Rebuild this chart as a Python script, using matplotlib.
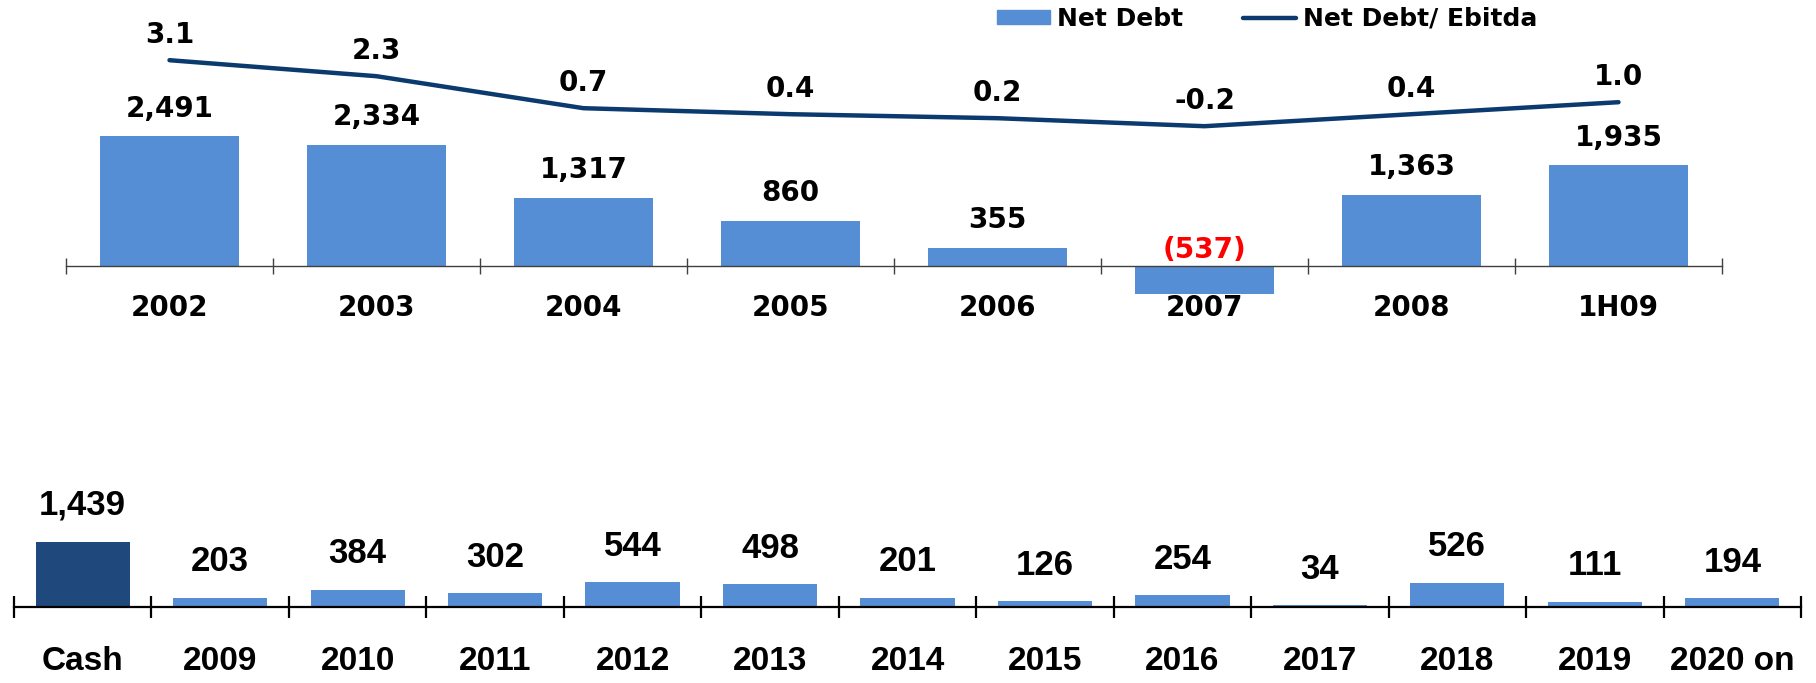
import numpy as np
import matplotlib
matplotlib.use("Agg")
import matplotlib.pyplot as plt
from matplotlib.patches import Patch
from matplotlib.lines import Line2D

# top chart: net debt and net debt / ebitda
years = ["2002", "2003", "2004", "2005", "2006", "2007", "2008", "1H09"]
net_debt = [2491, 2334, 1317, 860, 355, -537, 1363, 1935]
debt_ebitda = [3.1, 2.3, 0.7, 0.4, 0.2, -0.2, 0.4, 1.0]

# bottom chart: cash vs debt maturity
mat_labels = ["Cash", "2009", "2010", "2011", "2012", "2013", "2014",
              "2015", "2016", "2017", "2018", "2019", "2020 on"]
mat_values = [1439, 203, 384, 302, 544, 498, 201, 126, 254, 34, 526, 111, 194]

BAR = "#558ED5"
DARK = "#1F497D"
LINE = "#0B3A6E"

W, H = 1816, 683
fig = plt.figure(figsize=(W / 100, H / 100), dpi=100)

top_font = dict(family="DejaVu Sans", fontweight="bold", fontsize=20)
bot_font = dict(family=["Liberation Sans", "DejaVu Sans"], fontweight="bold", fontsize=25)

# ---- top chart
ax = fig.add_axes([66 / W, 1 - 300 / H, (1722 - 66) / W, 300 / H])
x = np.arange(len(years))
ax.bar(x, net_debt, width=0.67, color=BAR, zorder=2)
ax.set_xlim(-0.5, len(years) - 0.5)
ax.set_ylim(-654, 5115)
for s in ["top", "left", "right"]:
    ax.spines[s].set_visible(False)
ax.spines["bottom"].set_position(("data", 0))
ax.spines["bottom"].set_color("#404040")
ax.spines["bottom"].set_linewidth(1.0)
ax.set_yticks([])
ax.set_xticks(x)
ax.set_xticklabels(years, va="center", **top_font)
ax.tick_params(axis="x", which="major", length=0, pad=30)
ax.set_xticks(np.arange(-0.5, len(years)), minor=True)
ax.tick_params(axis="x", which="minor", direction="inout", length=11.5,
               width=1.0, color="#404040")
ax.patch.set_visible(False)

for xi, v in zip(x, net_debt):
    if v >= 0:
        ax.annotate(f"{v:,}", (xi, v), xytext=(0, 20), textcoords="offset points",
                    ha="center", va="center", **top_font)
    else:
        ax.annotate(f"({-v:,})", (xi, 0), xytext=(0, 11.5), textcoords="offset points",
                    ha="center", va="center", color="red", **top_font)

ax2 = ax.twinx()
ax2.plot(x, debt_ebitda, color=LINE, lw=3.2, solid_capstyle="round",
         solid_joinstyle="round")
ax2.set_ylim(-8.89, 6.11)
ax2.set_yticks([])
for s in ax2.spines.values():
    s.set_visible(False)
for xi, v in zip(x, debt_ebitda):
    ax2.annotate(f"{v:.1f}", (xi, v), xytext=(0, 18), textcoords="offset points",
                 ha="center", va="center", **top_font)

handles = [Patch(color=BAR), Line2D([], [], color=LINE, lw=3.2, solid_capstyle="round")]
fig.legend(handles, ["Net Debt", "Net Debt/ Ebitda"], loc="center left",
           bbox_to_anchor=(997 / W, 1 - 19 / H), ncol=2, frameon=False,
           borderpad=0, borderaxespad=0, handlelength=2.1, handleheight=0.45,
           handletextpad=0.3, columnspacing=2.4,
           prop=dict(family="DejaVu Sans", weight="bold", size=18))

# ---- bottom chart
bx = fig.add_axes([14 / W, 0, (1801 - 14) / W, 213 / H])
xb = np.arange(len(mat_labels))
colors = [DARK] + [BAR] * (len(mat_labels) - 1)
bx.bar(xb, mat_values, width=0.686, color=colors, zorder=2)
bx.set_xlim(-0.5, len(mat_labels) - 0.5)
bx.set_ylim(-1670, 3011)
for s in ["top", "left", "right"]:
    bx.spines[s].set_visible(False)
bx.spines["bottom"].set_position(("data", 0))
bx.spines["bottom"].set_linewidth(1.6)
bx.spines["bottom"].set_zorder(3)
bx.set_yticks([])
bx.set_xticks(xb)
bx.set_xticklabels(mat_labels, va="center", family=["Liberation Sans", "DejaVu Sans"],
                   fontweight="bold", fontsize=24)
bx.tick_params(axis="x", which="major", length=0, pad=39)
bx.set_xticks(np.arange(-0.5, len(mat_labels)), minor=True)
bx.tick_params(axis="x", which="minor", direction="inout", length=16.5, width=1.6)
bx.patch.set_visible(False)

for xi, v in zip(xb, mat_values):
    bx.annotate(f"{v:,}", (xi, v), xytext=(0, 26), textcoords="offset points",
                ha="center", va="center", **bot_font)

fig.savefig("out.png", dpi=100)
